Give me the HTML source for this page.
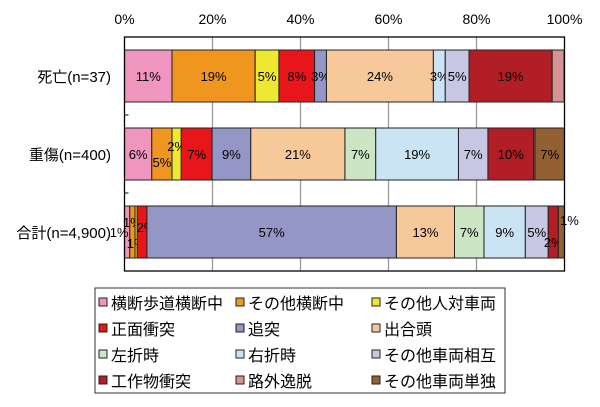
<!DOCTYPE html>
<html><head><meta charset="utf-8"><style>
body{margin:0;background:#fff;}
svg text{font-family:"Liberation Sans","Noto Sans CJK JP",sans-serif;}
</style></head><body>
<svg id="chart" width="600" height="402" viewBox="0 0 600 402" xmlns="http://www.w3.org/2000/svg">
<g id="grid"></g>
<g id="bars"></g>
<g id="axes"></g>
<g id="legend"></g>
</svg>
<script>
const categories = ["死亡(n=37)", "重傷(n=400)", "合計(n=4,900)"];
const seriesNames = ["横断歩道横断中","その他横断中","その他人対車両","正面衝突","追突","出合頭","左折時","右折時","その他車両相互","工作物衝突","路外逸脱","その他車両単独"];
const colors = ["#ef95c0","#f0951e","#eee830","#e8151b","#9496c6","#f7c89a","#cce5c5","#cae4f6","#c8c7e3","#b21e25","#d69393","#936032"];
const valuesDeath = [10.8,18.9,5.4,8.1,2.7,24.3,0,2.7,5.4,18.9,2.7,0];
const valuesSerious = [6.2,4.6,2.1,7.0,8.8,21.4,7.0,18.8,6.7,10.4,0.3,6.7];
const valuesTotal = [1.2,1.2,0.5,2.2,56.7,13.2,6.7,9.4,5.2,2.3,0,1.4];
const labelsDeath = ["11%","19%","5%","8%","3%","24%","","3%","5%","19%","",""];
const labelsSerious = ["6%","5%","2%","7%","9%","21%","7%","19%","7%","10%","","7%"];
const labelsTotal = ["1%","1%","1%","2%","57%","13%","7%","9%","5%","2%","","1%"];
const tickLabels = ["0%","20%","40%","60%","80%","100%"];
const tickValues = [0,20,40,60,80,100];

const allValues = [valuesDeath, valuesSerious, valuesTotal];
const allLabels = [labelsDeath, labelsSerious, labelsTotal];
const NS = "http://www.w3.org/2000/svg";
const L = 124.5, R = 564.5, T = 37, B = 271;
const x = v => L + (R - L) * v / 100;
const band = (B - T) / categories.length;
const yc = i => T + band * (i + 0.5);
const barH = 52;
function mk(tag, attrs, parent){const e=document.createElementNS(NS,tag);for(const k in attrs)e.setAttribute(k,attrs[k]);parent.appendChild(e);return e;}
const grid=document.getElementById('grid'), bars=document.getElementById('bars'), axes=document.getElementById('axes'), legend=document.getElementById('legend');

tickValues.forEach((t,i)=>{
  if(t>0&&t<100){const g=mk('line',{x1:x(t),x2:x(t),y1:T,y2:B,stroke:'#999','stroke-width':1.3},grid);
  
  }
  const tx=mk('text',{x:x(t),y:24,'text-anchor':'middle','font-size':14,fill:'#000'},axes);
  tx.textContent=tickLabels[i];
  
  
});
// label offsets for crowded small segments (style only)
const offs={"2-0":[-8,0],"2-1":[0,-10],"2-2":[0,11],"2-3":[4,-5],"2-11":[8,-12],"2-9":[0,10],"1-1":[0,8],"1-2":[0,-8]};
allValues.forEach((vals,ci)=>{
  let acc=0;
  vals.forEach((v,si)=>{
    const x0=x(acc), x1=x(acc+v); acc+=v;
    if(v<=0) return;
    const r=mk('rect',{x:x0,y:yc(ci)-barH/2,width:x1-x0,height:barH,fill:colors[si],stroke:'#222','stroke-width':1},bars);
    
    
    const lab=allLabels[ci][si];
    if(lab){const o=offs[ci+'-'+si]||[0,0];
      const t=mk('text',{x:(x0+x1)/2+o[0],y:yc(ci)+5+o[1],'text-anchor':'middle','font-size':13,fill:'#000'},bars);
      t.textContent=lab;
      
      }
  });
  const cl=mk('text',{x:111,y:yc(ci)+6,'text-anchor':'end','font-size':15,fill:'#000'},axes);
  cl.textContent=categories[ci];
  
  
  if(ci>0){const tk=mk('line',{x1:L,x2:L+4,y1:T+band*ci,y2:T+band*ci,stroke:'#000'},axes);
  
  }
});
const fr=mk('rect',{x:L,y:T,width:R-L,height:B-T,fill:'none',stroke:'#000','stroke-width':1.3},axes);



const lb=mk('rect',{x:95,y:288,width:410,height:105,fill:'#fff',stroke:'#333','stroke-width':1},legend);


const colX=[99,236,372];
seriesNames.forEach((n,i)=>{
  const cx=colX[i%3], cy=303+Math.floor(i/3)*26;
  const sq=mk('rect',{x:cx,y:cy-5,width:8,height:8,fill:colors[i],stroke:'#222','stroke-width':1},legend);
  
  
  const t=mk('text',{x:cx+12,y:cy+6,'font-size':16,fill:'#000'},legend);
  t.textContent=n;
  
  
});
</script>
</body></html>
